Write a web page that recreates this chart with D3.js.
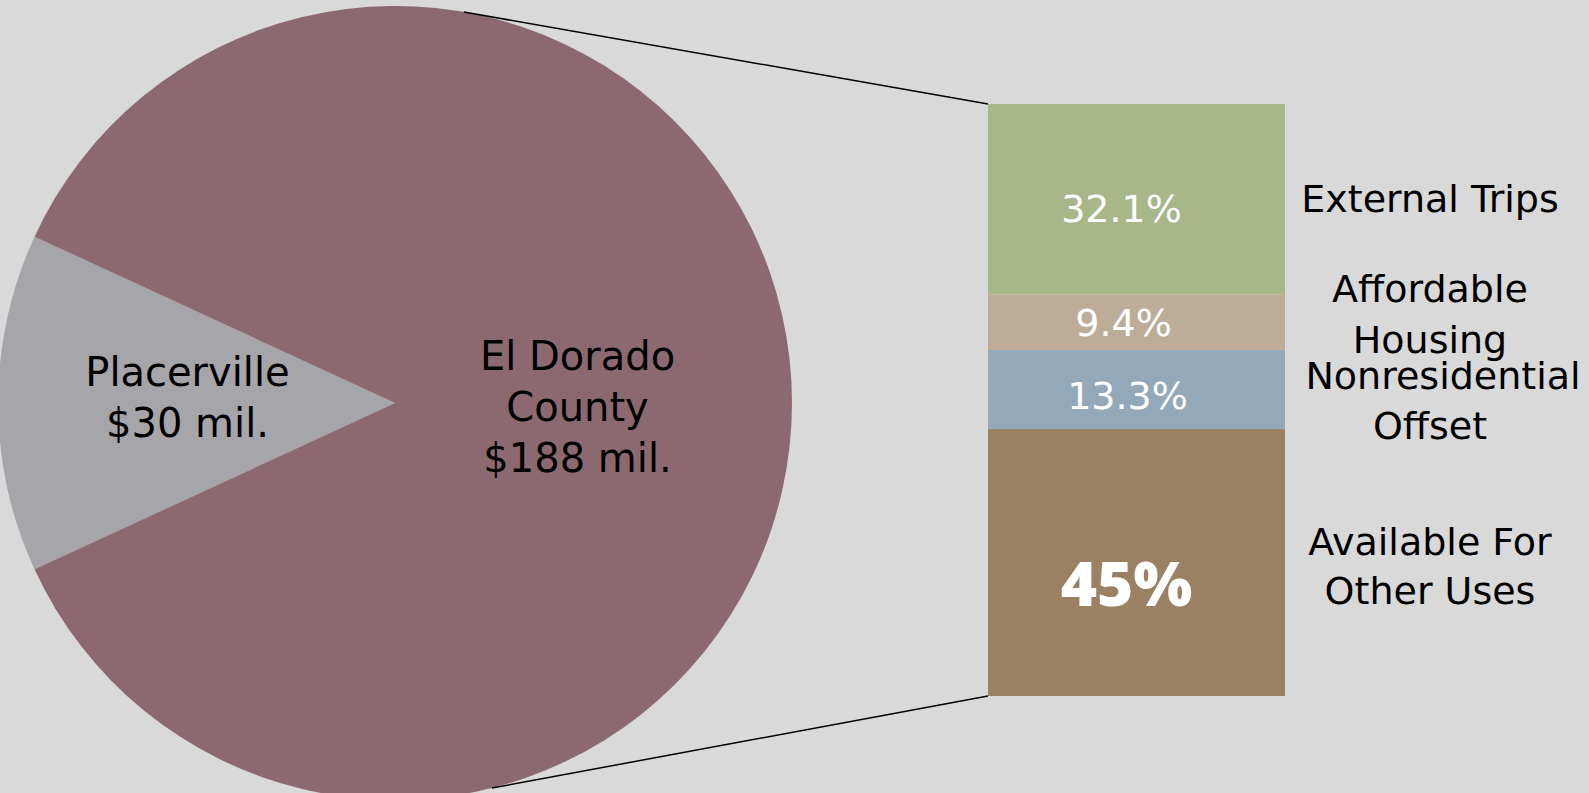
<!DOCTYPE html>
<html>
  <head>
    <meta charset="utf-8">
    <title>El Dorado County fees</title>
    <script src="https://d3js.org/d3.v7.min.js"></script>
    <style>
      body { margin: 0; background: #d9d9d9; }
      text { font-family: "DejaVu Sans", sans-serif; }
    </style>
  </head>
  <body>
    <div id="vis"></div>
    <script>
        const width = 1589;
        const height = 793;

        // pie data (millions)
        const pieNames = ["Placerville", "El Dorado County"];
        const pieValues = [30, 188];
        const pieLabels = [["Placerville", "$30 mil."], ["El Dorado", "County", "$188 mil."]];
        const pieColors = ["#a6a5aa", "#8c6971"];

        // bar breakdown of El Dorado share (percent)
        const barNames = ["External Trips", "Affordable Housing", "Nonresidential Offset", "Available For Other Uses"];
        const barValues = [32.1, 9.4, 13.3, 45];
        const barValueLabels = ["32.1%", "9.4%", "13.3%", "45%"];
        const barCatLabels = [["External Trips"], ["Affordable", "Housing"], ["Nonresidential", "Offset"], ["Available For", "Other Uses"]];
        const barColors = ["#a7b78a", "#bdad98", "#93a9b9", "#9a8163"];

        const vis = d3.select("#vis").append("svg")
          .attr("width", width).attr("height", height);

        const cx = 395, cy = 403, r = 397;

        const span = 2 * Math.PI * pieValues[0] / d3.sum(pieValues);
        const pie = d3.pie().sort(null)
          .startAngle(1.5 * Math.PI - span / 2)
          .endAngle(3.5 * Math.PI - span / 2);
        const arcs = pie(pieValues);
        const arc = d3.arc().innerRadius(0).outerRadius(r);
        const labelArc = d3.arc().innerRadius(r * 0.49).outerRadius(r * 0.49);
        // small nudges of the pie labels
        const pieNudge = [[-13, -6], [-12, 4]];

        const pg = vis.append("g").attr("transform", `translate(${cx},${cy})`);
        pg.selectAll("path").data(arcs).enter().append("path")
          .attr("d", arc)
          .attr("fill", (d, i) => pieColors[i]);

        const lineH = 51;
        pg.selectAll("text.pl").data(arcs).enter().append("text")
          .attr("class", "pl")
          .attr("text-anchor", "middle")
          .attr("font-size", 40)
          .attr("fill", "#000")
          .each(function(d, i) {
            const c = labelArc.centroid(d);
            const lines = pieLabels[i];
            const t = d3.select(this);
            lines.forEach((s, j) => {
              t.append("tspan")
                .attr("x", c[0] + pieNudge[i][0])
                .attr("y", c[1] + pieNudge[i][1] + (j - (lines.length - 1) / 2) * lineH)
                .attr("dy", "0.35em")
                .text(s);
            });
          });

        // stacked bar
        const barX = 988, barW = 297, barTop = 104, barBottom = 696;
        const y = d3.scaleLinear().domain([0, d3.sum(barValues)]).range([barTop, barBottom]);
        const cum = d3.cumsum(barValues);
        const segs = barValues.map((v, i) => ({ v: v, y0: cum[i] - v, y1: cum[i], i: i }));

        vis.append("g").selectAll("rect").data(segs).enter().append("rect")
          .attr("x", barX).attr("width", barW)
          .attr("y", d => y(d.y0))
          .attr("height", d => y(d.y1) - y(d.y0))
          .attr("fill", d => barColors[d.i]);

        const valNudge = [[-15, 9], [-13, 0], [-9, 6], [-10, 22]];
        vis.append("g").selectAll("text").data(segs).enter().append("text")
          .attr("x", d => barX + barW / 2 + valNudge[d.i][0])
          .attr("y", d => (y(d.y0) + y(d.y1)) / 2 + valNudge[d.i][1])
          .attr("dy", "0.35em")
          .attr("text-anchor", "middle")
          .attr("fill", "#fff")
          .attr("font-size", d => d.i === 3 ? 62 : 38)
          .attr("font-weight", d => d.i === 3 ? 800 : "normal")
          .style("font-family", d => d.i === 3 ? "'Open Sans', sans-serif" : null)
          .text(d => barValueLabels[d.i]);

        // category labels to the right
        const catY = [[199], [289, 340], [376, 426], [542, 591]];
        const catX = [[1430], [1430, 1430], [1443, 1430], [1430, 1430]];
        vis.append("g").selectAll("text").data(segs).enter().append("text")
          .attr("text-anchor", "middle")
          .attr("font-size", 38)
          .attr("fill", "#000")
          .each(function(d) {
            const t = d3.select(this);
            barCatLabels[d.i].forEach((s, j) => {
              t.append("tspan").attr("x", catX[d.i][j]).attr("y", catY[d.i][j]).attr("dy", "0.35em").text(s);
            });
          });

        // connector lines from pie edge to bar corners
        const topPt = [cx + Math.sqrt(r * r - (12 - cy) * (12 - cy)), 12];
        const botPt = [cx + Math.sqrt(r * r - (788 - cy) * (788 - cy)), 788];
        vis.append("line")
          .attr("x1", topPt[0]).attr("y1", topPt[1])
          .attr("x2", barX).attr("y2", barTop)
          .attr("stroke", "#000").attr("stroke-width", 1.5);
        vis.append("line")
          .attr("x1", botPt[0]).attr("y1", botPt[1])
          .attr("x2", barX).attr("y2", barBottom)
          .attr("stroke", "#000").attr("stroke-width", 1.5);
    </script>
  </body>
</html>
